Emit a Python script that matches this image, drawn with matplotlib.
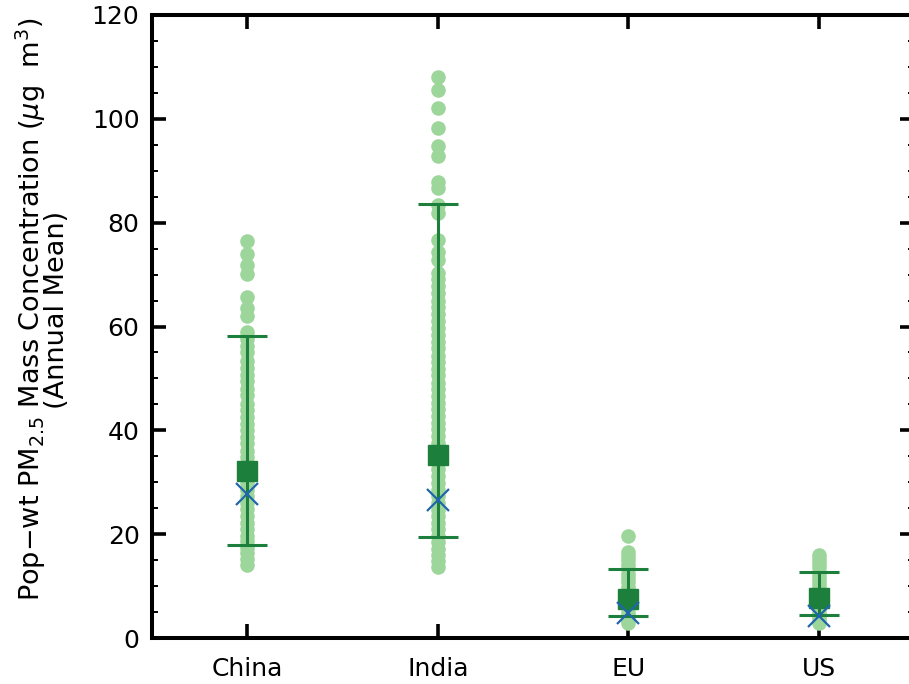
import matplotlib
matplotlib.use("Agg")
import matplotlib.pyplot as plt
from matplotlib.ticker import MultipleLocator

# Regions and per-site annual-mean concentrations (µg m^-3)
regions = ["China", "India", "EU", "US"]

china_sites = [76.4, 73.9, 71.9, 70.1, 65.6, 63.6, 62.0, 58.9, 57.6, 56.2, 55.0,
               53.4, 52.1, 50.7, 49.5, 48.0, 46.8, 45.1, 44.0, 42.6, 41.3, 40.0,
               38.7, 37.5, 36.1, 34.9, 33.6, 32.4, 31.0, 29.8, 28.5, 27.3, 26.0,
               24.8, 23.5, 22.2, 21.0, 19.7, 18.6, 17.4, 16.3, 15.2, 14.1]
india_sites = [108.0, 105.6, 102.0, 98.2, 94.8, 92.9, 87.9, 86.6, 83.4, 81.8,
               76.7, 74.4, 72.8, 70.3, 69.2, 67.8, 66.5, 65.0, 63.7, 62.4, 61.0,
               59.8, 58.3, 57.1, 55.8, 54.4, 53.2, 51.9, 50.6, 49.2, 48.0, 46.7,
               45.3, 44.1, 42.8, 41.5, 40.2, 38.9, 37.6, 36.3, 35.0, 33.8, 32.5,
               31.2, 29.9, 28.6, 27.3, 26.0, 24.7, 23.5, 22.2, 20.9, 19.6, 18.4,
               17.1, 15.9, 14.8, 13.7]
eu_sites = [19.7, 16.6, 15.8, 15.0, 14.1, 13.3, 12.4, 11.6, 10.7, 9.9, 9.1, 8.2,
            7.4, 6.6, 5.7, 4.9, 4.1, 3.4, 2.8]
us_sites = [16.0, 15.3, 14.5, 13.7, 12.8, 12.0, 11.2, 10.4, 9.6, 8.8, 8.0, 7.2,
            6.4, 5.6, 4.8, 4.1, 3.4, 2.8]
site_values = [china_sites, india_sites, eu_sites, us_sites]

# Population-weighted summary statistics per region
pop_weighted_mean = [32.1, 35.3, 7.6, 7.7]
median_value = [27.7, 26.6, 4.9, 4.2]
range_upper = [58.1, 83.6, 13.2, 12.7]
range_lower = [17.9, 19.4, 4.2, 4.4]

LIGHT_GREEN = "#9dd69a"
DARK_GREEN = "#1c803c"
BLUE = "#2166ac"

plt.rcParams["mathtext.fontset"] = "dejavusans"

fig = plt.figure(figsize=(9.09, 6.84), dpi=100)
ax = fig.add_axes([152 / 909, 46 / 684, (914 - 152) / 909, (638 - 15) / 684])

positions = list(range(1, len(regions) + 1))

for pos, vals in zip(positions, site_values):
    ax.plot([pos] * len(vals), vals, linestyle="none", marker="o",
            markersize=10.5, markerfacecolor=LIGHT_GREEN,
            markeredgecolor="none", zorder=2)

yerr = [[m - lo for m, lo in zip(pop_weighted_mean, range_lower)],
        [hi - m for m, hi in zip(pop_weighted_mean, range_upper)]]
ax.errorbar(positions, pop_weighted_mean, yerr=yerr, fmt="none",
            ecolor=DARK_GREEN, elinewidth=2.2, capsize=14.5, capthick=2.2,
            zorder=3)
ax.plot(positions, pop_weighted_mean, linestyle="none", marker="s",
        markersize=15, color=DARK_GREEN, zorder=4)
ax.plot(positions, median_value, linestyle="none", marker="x",
        markersize=16, markeredgewidth=1.6, color=BLUE, zorder=5)

ax.set_xlim(0.5, 4.5)
ax.set_ylim(0, 120)
ax.set_xticks(positions)
ax.set_xticklabels(regions)
ax.yaxis.set_major_locator(MultipleLocator(20))
ax.yaxis.set_minor_locator(MultipleLocator(5))

for side in ax.spines.values():
    side.set_linewidth(2.9)

ax.tick_params(axis="both", which="major", direction="in", length=10,
               width=2.6, labelsize=18, top=True, right=True)
ax.tick_params(axis="y", which="major", pad=9)
ax.tick_params(axis="x", which="major", pad=14)
ax.tick_params(axis="y", which="minor", direction="in", length=4.3,
               width=1.4, right=True)

ax.set_ylabel("Pop\u2212wt PM$_{2.5}$ Mass Concentration ($\\mu$g  m$^3$)\n(Annual Mean)",
              fontsize=19.5, multialignment="center", linespacing=0.8)
ax.yaxis.set_label_coords((70 - 152) / 762, 0.527)

fig.savefig("out.png", dpi=100)
